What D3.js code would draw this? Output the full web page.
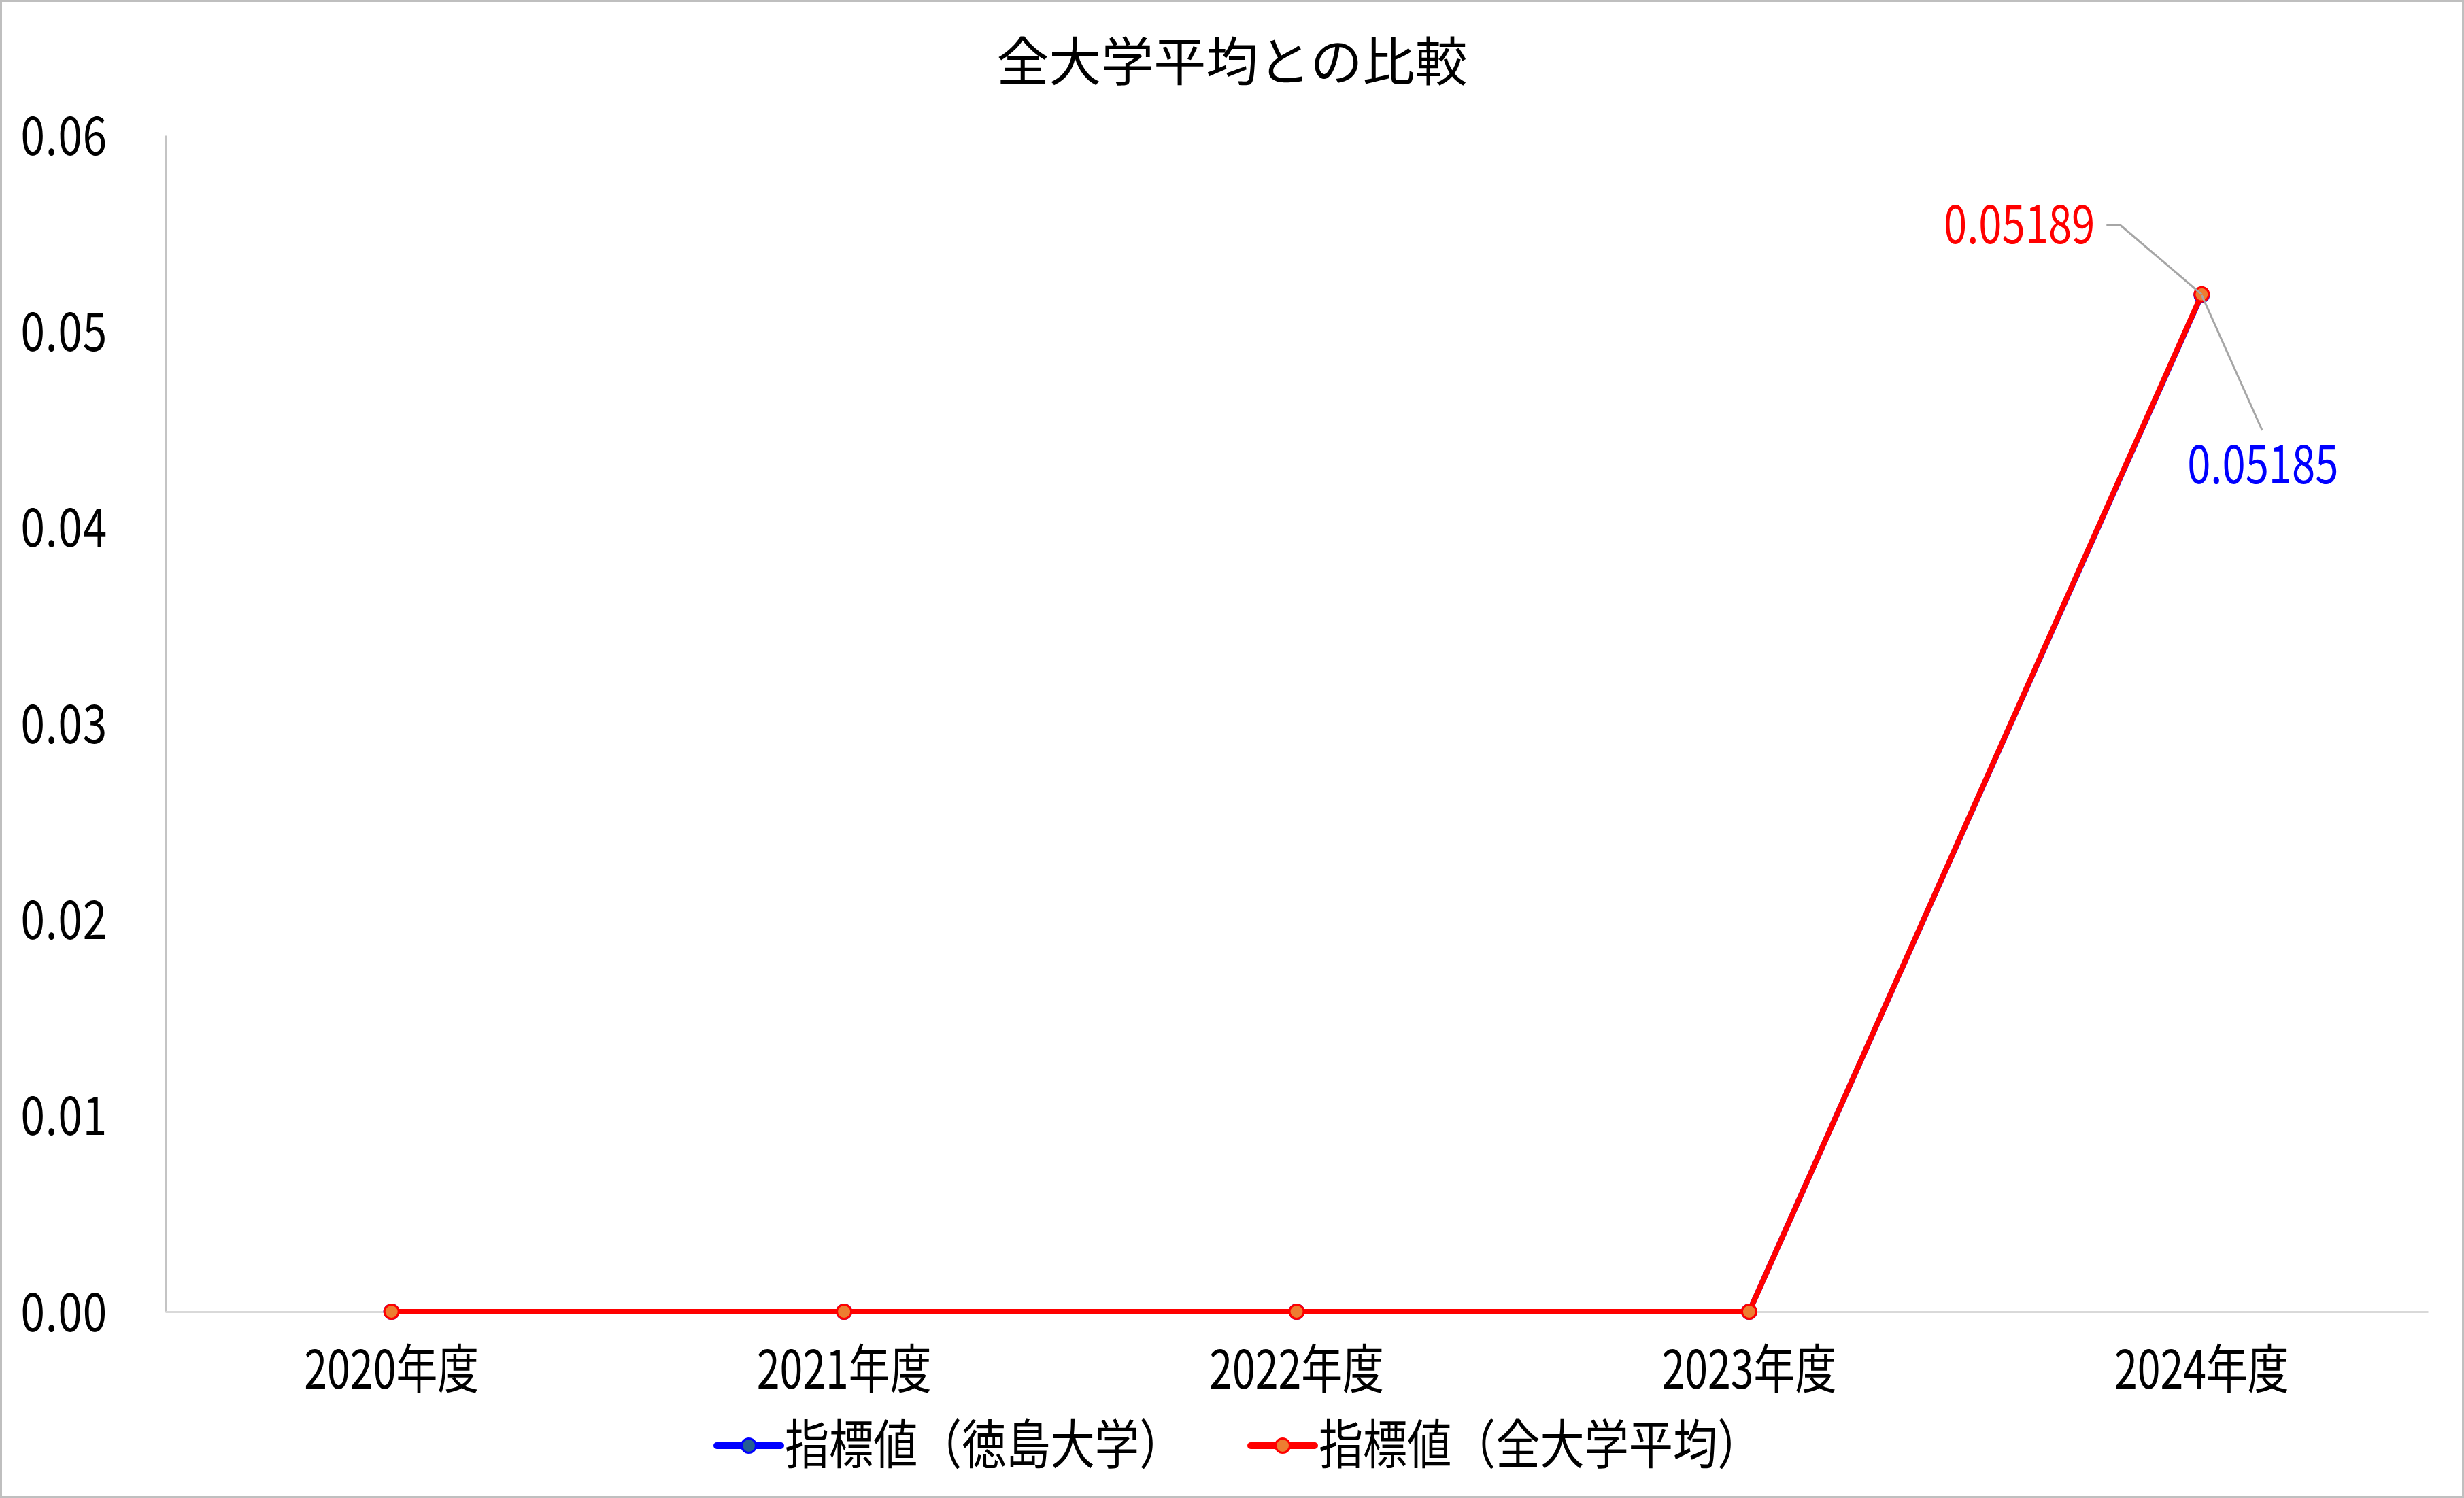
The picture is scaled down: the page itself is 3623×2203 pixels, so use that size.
<!DOCTYPE html>
<html>
<head>
<meta charset="utf-8">
<script src="https://cdn.jsdelivr.net/npm/d3@7"></script>
<style>
  html, body { margin: 0; padding: 0; background: #fff; }
  text { font-family: "Noto Sans CJK JP", "Noto Sans", sans-serif; }
</style>
</head>
<body>
<div id="container"></div>
<script>
/**
 * DATA
 * */
const chartTitle = "全大学平均との比較";
const years = ["2020年度", "2021年度", "2022年度", "2023年度", "2024年度"];
const seriesNames = ["指標値（徳島大学）", "指標値（全大学平均）"];
const tokushimaValues = [0, 0, 0, 0, 0.05185];
const allUnivValues = [0, 0, 0, 0, 0.05189];
const yTicks = [0, 0.01, 0.02, 0.03, 0.04, 0.05, 0.06];

/**
 * CONSTANTS AND GLOBALS
 * */
const width = 3623,
  height = 2203,
  margin = { top: 199, bottom: 274, left: 243, right: 53 };

// the chart's font is a narrow one, so text gets squeezed sideways
const squeezeY = 0.82,
  squeezeX = 0.78,
  squeezeLabel = 0.79,
  squeezeLegend = 0.835;
const tickSize = 78;

let svg;

/**
 * INIT
 * */
function init() {
  svg = d3
    .select("#container")
    .append("svg")
    .attr("width", width)
    .attr("height", height);

  // white background + grey frame
  svg
    .append("rect")
    .attr("x", 1.5)
    .attr("y", 1.5)
    .attr("width", width - 3)
    .attr("height", height - 3)
    .attr("fill", "#fff")
    .attr("stroke", "#bfbfbf")
    .attr("stroke-width", 3);

  const xScale = d3
    .scaleBand()
    .domain(years)
    .range([margin.left, width - margin.right]);
  const xc = d => xScale(d) + xScale.bandwidth() / 2;

  const yScale = d3
    .scaleLinear()
    .domain([0, 0.06])
    .range([height - margin.bottom, margin.top]);

  // title
  svg
    .append("text")
    .attr("x", width / 2)
    .attr("y", 119)
    .attr("text-anchor", "middle")
    .attr("font-size", 77)
    .attr("fill", "#000")
    .text(chartTitle);

  // y axis: line + labels
  const yAxis = svg
    .append("g")
    .attr("transform", `translate(${margin.left},0)`)
    .call(d3.axisLeft(yScale).tickValues(yTicks).tickSize(0).tickFormat(d3.format(".2f")));
  yAxis.select(".domain").attr("stroke", "#c4c4c4").attr("stroke-width", 3);
  yAxis
    .selectAll(".tick text")
    .attr("x", null)
    .attr("dy", null)
    .attr("font-size", tickSize)
    .attr("fill", "#000")
    .attr("text-anchor", "end")
    .attr("letter-spacing", 1)
    .attr("transform", "translate(-85,28) scale(" + squeezeY + ",1)");

  // x axis: line + labels
  const xAxis = svg
    .append("g")
    .attr("transform", `translate(0,${height - margin.bottom})`)
    .call(d3.axisBottom(xScale).tickSize(0));
  xAxis.select(".domain").attr("stroke", "#d9d9d9").attr("stroke-width", 3);
  xAxis
    .selectAll(".tick text")
    .attr("y", null)
    .attr("dy", null)
    .attr("font-size", tickSize)
    .attr("fill", "#000")
    .attr("text-anchor", "middle")
    .attr("transform", "translate(0,113) scale(" + squeezeX + ",1)");

  const series = [
    { name: seriesNames[0], values: tokushimaValues, line: "#0000ff", fill: "#255e91", stroke: "#0000ff" },
    { name: seriesNames[1], values: allUnivValues, line: "#ff0000", fill: "#ed7d31", stroke: "#ff0000" }
  ];

  const line = d3
    .line()
    .x((v, i) => xc(years[i]))
    .y(v => yScale(v));

  series.forEach(s => {
    svg
      .append("path")
      .datum(s.values)
      .attr("d", line)
      .attr("fill", "none")
      .attr("stroke", s.line)
      .attr("stroke-width", 8)
      .attr("stroke-linejoin", "round");

    svg
      .append("g")
      .selectAll("circle")
      .data(s.values)
      .join("circle")
      .attr("cx", (v, i) => xc(years[i]))
      .attr("cy", v => yScale(v))
      .attr("r", 10.5)
      .attr("fill", s.fill)
      .attr("stroke", s.stroke)
      .attr("stroke-width", 3);
  });

  // data labels on the last point, with grey leader lines
  const last = years.length - 1;
  const px = xc(years[last]);
  const pyRed = yScale(allUnivValues[last]);
  const pyBlue = yScale(tokushimaValues[last]);

  const leaders = svg.append("g").attr("fill", "none").attr("stroke", "#a6a6a6").attr("stroke-width", 3);
  leaders
    .append("polyline")
    .attr("points", [[px - 140, pyRed - 102], [px - 120, pyRed - 102], [px, pyRed]].join(" "));
  leaders
    .append("polyline")
    .attr("points", [[px, pyBlue], [px + 89, pyBlue + 199]].join(" "));

  svg
    .append("text")
    .attr("text-anchor", "end")
    .attr("font-size", tickSize)
    .attr("fill", "#ff0000")
    .attr("transform", `translate(${px - 157},${pyRed - 75}) scale(${squeezeLabel},1)`)
    .text(d3.format(".5f")(allUnivValues[last]));

  svg
    .append("text")
    .attr("text-anchor", "middle")
    .attr("font-size", tickSize)
    .attr("fill", "#0000ff")
    .attr("transform", `translate(${px + 90},${pyBlue + 277}) scale(${squeezeLabel},1)`)
    .text(d3.format(".5f")(tokushimaValues[last]));

  // legend
  const legendY = 2126;
  const legendX = [1054, 1839];
  const legend = svg
    .append("g")
    .selectAll("g")
    .data(series)
    .join("g")
    .attr("transform", (d, i) => `translate(${legendX[i]},${legendY})`);

  legend
    .append("line")
    .attr("x1", 0)
    .attr("x2", 94)
    .attr("stroke", d => d.line)
    .attr("stroke-width", 10)
    .attr("stroke-linecap", "round");
  legend
    .append("circle")
    .attr("cx", 47)
    .attr("r", 10.5)
    .attr("fill", d => d.fill)
    .attr("stroke", d => d.stroke)
    .attr("stroke-width", 3);
  legend
    .append("text")
    .attr("font-size", tickSize)
    .attr("fill", "#000")
    .attr("transform", `translate(100,27) scale(${squeezeLegend},1)`)
    .text(d => d.name);
}

init();
</script>
</body>
</html>
